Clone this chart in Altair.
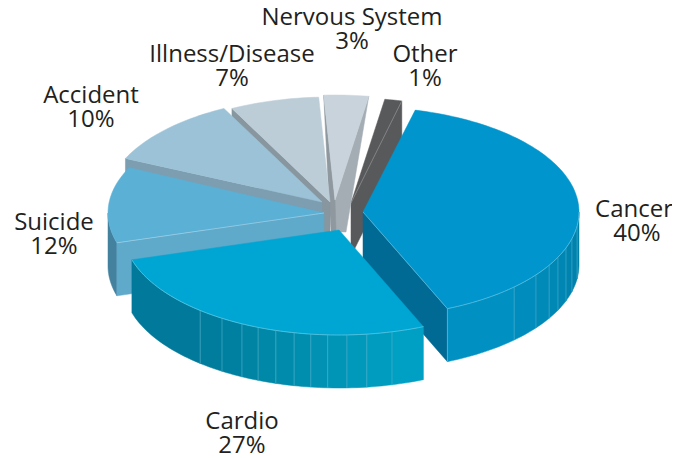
import math
import altair as alt
import pandas as pd

categories = ["Cancer", "Cardio", "Suicide", "Accident", "Illness/Disease", "Nervous System", "Other"]
shares = [40, 27, 12, 10, 7, 3, 1]
label_x = [634, 242, 54, 91, 232, 352, 425]
share_x = [637, 242, 54, 91, 232, 352, 425]
label_y = [217, 429, 230, 103, 62, 25, 62]

A, B, DEPTH = 216, 105, 53
apex = {"Cancer": (363, 212), "Cardio": (339, 230), "Suicide": (324, 213), "Accident": (322, 202),
        "Illness/Disease": (330, 202), "Nervous System": (335, 200), "Other": (351, 203)}
sweep = {"Cancer": (76, -67), "Cardio": (-67, -163.5), "Suicide": (-163.5, -205.6), "Accident": (155.5, 117),
         "Illness/Disease": (117, 93), "Nervous System": (93, 81), "Other": (81, 76.4)}
top_col = {"Cancer": "#0095cc", "Cardio": "#00a6d3", "Suicide": "#5bb0d6", "Accident": "#9cc2d7",
           "Illness/Disease": "#bccdd7", "Nervous System": "#c9d3db", "Other": "#58595b"}
cut_col = {"Cancer": "#006a94", "Suicide": "#5fa9ca", "Accident": "#7d9db0",
           "Illness/Disease": "#87969f", "Other": "#58595b"}
cancer_breaks = [-67, -45.6, -36.8, -30.5, -25.5, -20, -14.7, -7.6, 0]
cancer_rim = ["#0090c2", "#008dbd", "#008ab8", "#0088b5", "#0086b2", "#0084af", "#0082ac", "#0080a9"]
cardio_breaks = [-67, -75.8, -82.6, -87.9, -93, -97.5, -102, -107, -112, -116.7, -122.8, -130, -163.5]
cardio_rim = ["#00a0c4", "#009cc0", "#0098bb", "#0095b7", "#0091b3", "#008eaf", "#008bac", "#0088a8",
              "#0084a4", "#0080a0", "#007c9d", "#00799a"]

rows = []
def add(points, fill, stroke=None, sw=0.5):
    n = rows[-1]["n"] + 1 if rows else 0
    for i, (x, y) in enumerate(points):
        rows.append({"poly": f"p{n}", "n": n, "v": i, "x": x, "y": y, "fill": fill,
                     "stroke": stroke or fill, "sw": sw})

def arc(name, t0, t1, dy=0):
    cx, cy = apex[name]
    steps = max(2, int(abs(t1 - t0) / 1.5) + 1)
    return [(cx + A * math.cos(math.radians(t0 + (t1 - t0) * i / steps)),
             cy - B * math.sin(math.radians(t0 + (t1 - t0) * i / steps)) + dy) for i in range(steps + 1)]

def wedge(name):
    t0, t1 = sweep[name]
    pts = [apex[name]] + arc(name, t0, t1)
    add(pts + [pts[0]], top_col[name])

def cut(name, t):
    cx, cy = apex[name]
    ex, ey = arc(name, t, t)[0]
    add([(cx, cy), (ex, ey), (ex, ey + DEPTH), (cx, cy + DEPTH), (cx, cy)], cut_col[name])

def rim(name, breaks, cols, line=None):
    for i, c in enumerate(cols):
        t0, t1 = breaks[i], breaks[i + 1]
        pts = arc(name, t0, t1) + arc(name, t1, t0, DEPTH)
        add(pts + [pts[0]], c)
        if line and i > 0:
            p = arc(name, t0, t0)[0]
            add([p, (p[0], p[1] + DEPTH)], "none", line, 0.6)

# Other
cut("Other", 76.4)
wedge("Other")
n = "Other"
add([apex[n], arc(n, 76.4, 76.4)[0]], "none", "#8d8e90", 0.7)

# Nervous System side faces
nx, ny = apex["Nervous System"]
ntop_l = arc("Nervous System", 93, 93)[0]
ntop_r = arc("Nervous System", 81, 81)[0]
add([ntop_r, (nx, ny), (nx, ny + 32), (nx + 11, ny + 32), ntop_r], "#a5adb4")
add([ntop_l, (nx, ny), (nx + 1, ny + 31), (nx - 4, ny + 31), (nx - 6, ny), ntop_l], "#8e989e")
wedge("Nervous System")

# Illness
cut("Illness/Disease", 117)
wedge("Illness/Disease")

# Accident
cut("Accident", 155.5)
wedge("Accident")

# Suicide
rim("Suicide", [-163.5, -180], ["#43819f"])
cut("Suicide", -163.5)
wedge("Suicide")
add([apex["Suicide"], arc("Suicide", -163.5, -163.5)[0]], "none", "#a8d3e6", 0.7)

# Cancer
cut("Cancer", -67)
rim("Cancer", cancer_breaks, cancer_rim, "#4db0d2")
wedge("Cancer")
n = "Cancer"
e = arc(n, -67, -67)[0]
add([apex[n], e, (e[0], e[1] + DEPTH)], "none", "#7cc4dc", 0.6)
add(arc(n, -67, 0), "none", "#5cc0e0", 0.8)

# Cardio
rim("Cardio", cardio_breaks, cardio_rim, "#55b5cf")
wedge("Cardio")
add(arc("Cardio", -67, -163.5), "none", "#5cc4e0", 0.8)

poly_df = pd.DataFrame(rows)

x_scale = alt.Scale(domain=[8, 672], range=[0, 664], nice=False, zero=False)
y_scale = alt.Scale(domain=[458, 8], nice=False, zero=False)

shapes = alt.Chart(poly_df).mark_line(interpolate="linear", strokeJoin="round").encode(
    x=alt.X("x:Q", scale=x_scale, axis=None),
    y=alt.Y("y:Q", scale=y_scale, axis=None),
    detail="poly:N",
    order="v:Q",
    fill=alt.Fill("fill:N", scale=None),
    stroke=alt.Stroke("stroke:N", scale=None),
    strokeWidth=alt.StrokeWidth("sw:Q", scale=None),
)

txt = []
for c, s, x, px, y in zip(categories, shares, label_x, share_x, label_y):
    txt.append({"t": c, "x": x, "y": y})
    txt.append({"t": f"{s}%", "x": px, "y": y + 24})
labels = alt.Chart(pd.DataFrame(txt)).mark_text(
    font="Open Sans", fontSize=24, color="#231f20", align="center", baseline="alphabetic"
).encode(
    x=alt.X("x:Q", scale=x_scale, axis=None),
    y=alt.Y("y:Q", scale=y_scale, axis=None),
    text="t:N",
)

chart = alt.layer(shapes, labels).properties(
    width=664, height=450, padding=0,
    autosize=alt.AutoSizeParams(type="none"),
).configure_view(stroke=None)
chart.save("out.html", embed_options={"renderer": "svg", "actions": False})
